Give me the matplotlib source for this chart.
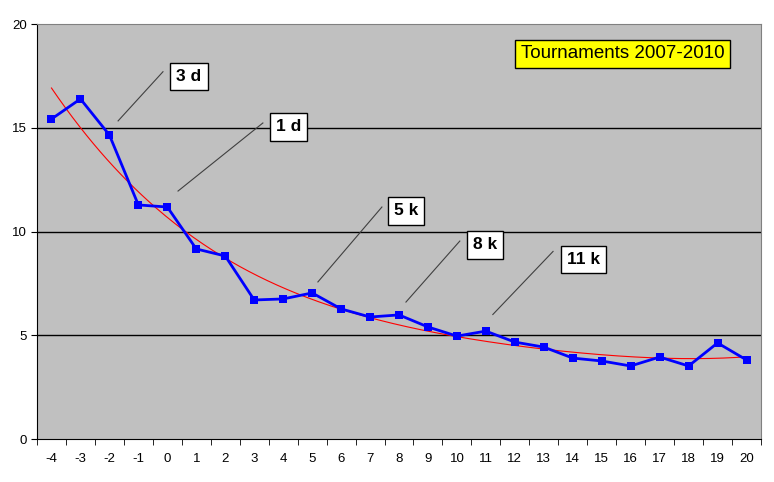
import numpy as np
import matplotlib.pyplot as plt

plt.rcParams['font.family'] = ['Liberation Sans', 'DejaVu Sans']

# data
ranks = [-4, -3, -2, -1, 0, 1, 2, 3, 4, 5, 6, 7, 8, 9, 10, 11, 12,
         13, 14, 15, 16, 17, 18, 19, 20]
values = [15.42, 16.39, 14.65, 11.28, 11.18, 9.16, 8.82, 6.70, 6.75, 7.04,
          6.27, 5.88, 5.98, 5.40, 4.96, 5.20, 4.67, 4.43, 3.90, 3.76,
          3.52, 3.95, 3.52, 4.63, 3.81]

# callouts: label, box centre (rank, value), line start, line end
callouts = [
    ('3 d', (0.75, 17.49), (-0.15, 17.7), (-1.70, 15.33)),
    ('1 d', (4.18, 15.04), (3.30, 15.23), (0.37, 11.95)),
    ('5 k', (8.24, 10.99), (7.41, 11.18), (5.20, 7.57)),
    ('8 k', (10.97, 9.35), (10.10, 9.54), (8.24, 6.60)),
    ('11 k', (14.36, 8.67), (13.32, 9.04), (11.24, 6.00)),
]

x = np.arange(len(ranks))

fig = plt.figure(figsize=(7.74, 4.82), dpi=100)
ax = fig.add_axes([0.0478, 0.0892, 0.9354, 0.861])
ax.set_facecolor('#c0c0c0')

ax.set_xlim(-0.5, len(ranks) - 0.5)
ax.set_ylim(0, 20)

for yv in (5, 10, 15):
    ax.axhline(yv, color='black', lw=1, zorder=1)

# polynomial trendline (4th order)
xr = np.array(ranks, dtype=float)
coef = np.polyfit(xr, values, 4)
xs = np.linspace(xr[0], xr[-1], 300)
ax.plot(xs - xr[0], np.polyval(coef, xs), color='red', lw=0.8, zorder=3)

ax.plot(x, values, color='#0000ff', lw=2, marker='s', markersize=6,
        markeredgewidth=0, zorder=4)

for label, box, p0, p1 in callouts:
    bx, by = box[0] - ranks[0], box[1]
    ax.plot([p0[0] - ranks[0], p1[0] - ranks[0]], [p0[1], p1[1]],
            color='#404040', lw=0.8, zorder=2)
    ax.text(bx, by, label, ha='center', va='center', fontsize=12.5,
            fontweight='bold', zorder=5,
            bbox=dict(boxstyle='square,pad=0.35', fc='white', ec='black', lw=1))

ax.text(0.809, 0.928, 'Tournaments 2007-2010', transform=ax.transAxes,
        ha='center', va='center', fontsize=13.5, zorder=5,
        bbox=dict(boxstyle='square,pad=0.3', fc='#ffff00', ec='black', lw=1))

# axes styling
ax.set_xticks(x)
ax.set_xticklabels([str(r) for r in ranks], fontsize=9.5)
ax.set_xticks(np.arange(-0.5, len(ranks), 1), minor=True)
ax.tick_params(axis='x', which='major', length=0, pad=10)
ax.tick_params(axis='x', which='minor', length=4, direction='out')
ax.set_yticks([0, 5, 10, 15, 20])
ax.tick_params(axis='y', length=4, direction='out', labelsize=9.5)

for side in ('top', 'right'):
    ax.spines[side].set_color('#808080')
for side in ('left', 'bottom'):
    ax.spines[side].set_color('black')

fig.savefig('out.png', dpi=100)
